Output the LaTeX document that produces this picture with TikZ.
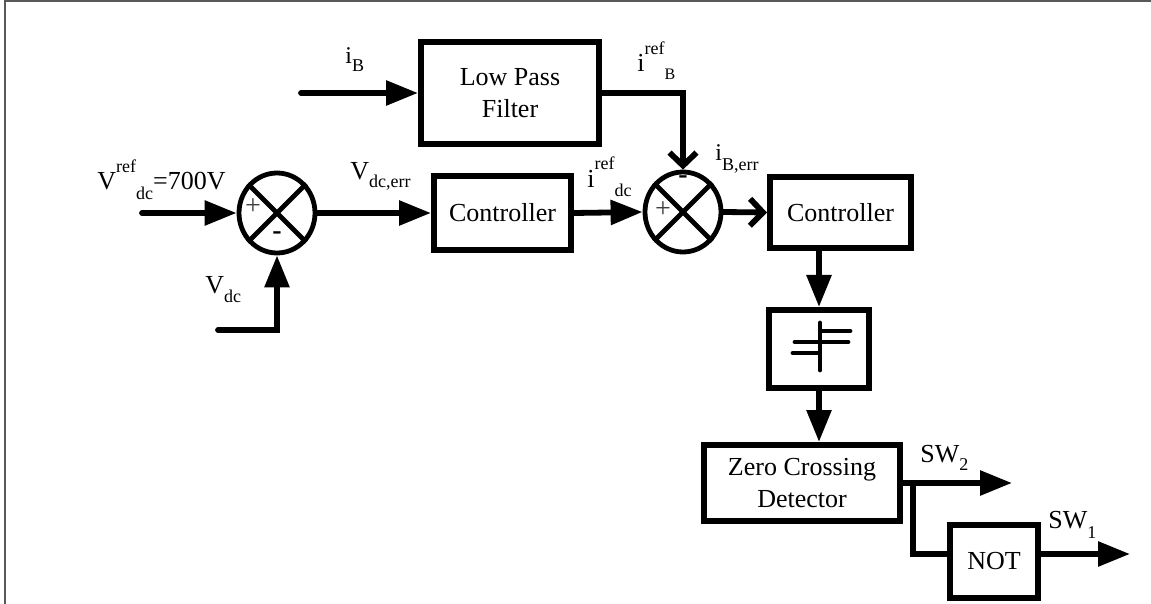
\documentclass[tikz,border=0pt]{standalone}
\usepackage{fontspec}
\setmainfont{Liberation Serif}
\usetikzlibrary{arrows.meta,shapes.geometric,calc}
\newcommand\msz{\fontsize{13}{16}\selectfont}
\newcommand\ssz{\fontsize{9}{9}\selectfont}
\newcommand\Sup[2]{\raisebox{#1}{\ssz #2}}
\begin{document}
\begin{tikzpicture}[x=0.5pt,y=-0.5pt]
\tikzset{
  blk/.style={draw, line width=3pt, rectangle, inner sep=0pt, align=center, font=\msz},
  sumc/.style={draw, ellipse, line width=2.4pt, minimum width=38pt, minimum height=40pt, inner sep=0pt},
  conn/.style={line width=2.9pt, line cap=round},
  fa/.style={conn, -{Triangle[length=16pt,width=12pt]}},
  oa/.style={conn, -{Straight Barb[length=6.5pt,width=13.5pt]}},
  lbl/.style={inner sep=0pt, anchor=base west, font=\msz},
  sgn/.style={inner sep=0pt, font=\fontsize{14}{14}\selectfont},
  qline/.style={line width=2.4pt, line cap=round}
}
\useasboundingbox (0,0) rectangle (1151,604);
\draw[line width=1pt, black!65] (5,604) -- (5,1) -- (1151,1);

% blocks
\node[blk, minimum width=89pt, minimum height=51pt] (lpf) at (510,93) {Low Pass\\Filter};
\node[blk, minimum width=68.5pt, minimum height=37pt] (c1) at (502.5,213) {Controller};
\node[blk, minimum width=70.5pt, minimum height=35.5pt] (c2) at (840.5,212.5) {Controller};
\node[blk, minimum width=50pt, minimum height=39pt] (q) at (819,349) {};
\node[blk, minimum width=98pt, minimum height=38pt] (zcd) at (802,483) {Zero Crossing\\Detector};
\node[blk, minimum width=44pt, minimum height=36.5pt] (not) at (994,561.5) {NOT};
\node[sumc] (s1) at (277,213) {};
\node[sumc] (s2) at (683,212) {};

% summing junction crosses and signs
\draw[line width=2.4pt] (s1.45) -- (s1.225) (s1.135) -- (s1.315);
\draw[line width=2.4pt] (s2.45) -- (s2.225) (s2.135) -- (s2.315);
\node[sgn, text=black!75] (p1) at (253,207) {+};
\node[sgn] (m1) at (277,236) {\textbf{-}};
\node[sgn, text=black!75] (p2) at (663,210) {+};
\node[sgn] (m2) at (683,180) {\textbf{-}};

% quantizer symbol
\draw[qline] (820,323) -- (820,370);
\draw[qline] (822,331) -- (850,331);
\draw[qline] (795,342) -- (848,342);
\draw[qline] (793,353) -- (818,353);

% connectors
\coordinate (ib) at (301,93);
\draw[fa] (ib) -- (lpf);
\draw[oa] (lpf.east) -| (s2.north);
\coordinate (vr) at (142,213);
\draw[fa] (vr) -- (s1.west);
\coordinate (vd) at (218,330);
\draw[fa] (vd) -| (s1.south);
\draw[fa] (s1.east) -- (c1.west);
\draw[fa] (c1.east) -- (s2.west);
\draw[oa] (s2.east) -- (c2.west);
\draw[fa] (q.north |- c2.south) -- (q.north);
\draw[fa] (q.south) -- (q.south |- zcd.north);
\coordinate (sw2) at (1012,483);
\draw[fa] (zcd.east) -- (sw2);
\coordinate (br) at (913,483);
\draw[conn, line cap=butt] (br) |- (not.west |- 0,554);
\coordinate (sw1) at (1130,554);
\draw[fa] (not.east |- sw1) -- (sw1);

% labels
\node[lbl] (lvref) at (97,190) {V\Sup{8.5pt}{ref}\Sup{-5pt}{dc}=700V};
\node[lbl] (lvderr) at (350,180) {V\Sup{-4pt}{dc,err}};
\node[lbl] (lvdc) at (205,293) {V\Sup{-5pt}{dc}};
\node[lbl] (lib) at (345,64) {\fontsize{12}{12}\selectfont i\raisebox{-4pt}{\fontsize{9}{9}\selectfont B}};
\node[lbl] (liberr) at (715,161) {\fontsize{12}{12}\selectfont i\raisebox{-5pt}{\fontsize{9}{9}\selectfont B,err}};
\node[lbl] (lirefdc) at (587,188) {i\Sup{9pt}{ref}\Sup{-4.5pt}{dc}};
\node[lbl] (lirefb) at (637,72) {i\Sup{8.5pt}{ref}\raisebox{-4pt}{\fontsize{8}{8}\selectfont B}};
\node[lbl] (lsw2) at (920,462) {SW\raisebox{-4pt}{\fontsize{9}{9}\selectfont 2}};
\node[lbl] (lsw1) at (1048,528) {SW\raisebox{-5pt}{\fontsize{9}{9}\selectfont 1}};
\end{tikzpicture}
\end{document}
